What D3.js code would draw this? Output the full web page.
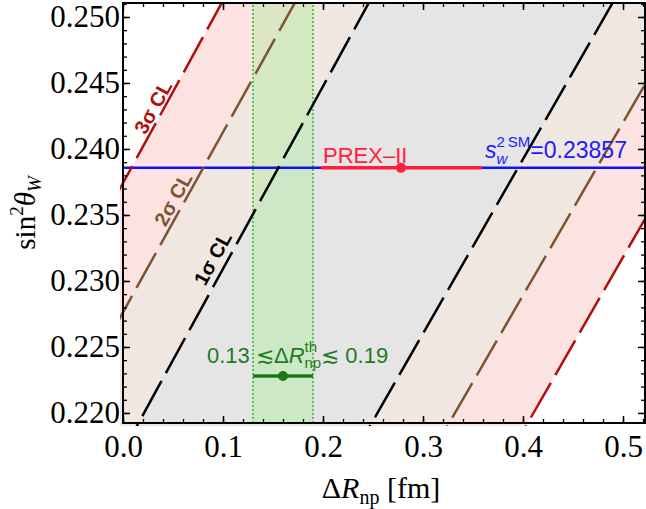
<!DOCTYPE html>
<html>
<head>
<meta charset="utf-8">
<script src="https://cdn.jsdelivr.net/npm/d3@7"></script>
<style>
  body { margin: 0; background: #fff; }
  svg { display: block; }
</style>
</head>
<body>
<div class="chart"></div>
<script>
// sin^2 theta_W vs Delta R_np

// confidence bands: Delta R_np where each edge crosses sin2 = 0.220 and 0.250
const bandNames = ['3σ CL', '2σ CL', '1σ CL'];
const edgeAt = [0.220, 0.250];
const leftEdge = [[-0.126, 0.091], [-0.056, 0.164], [0.021, 0.238]];
const rightEdge = [[0.4105, 0.638], [0.332, 0.561], [0.2545, 0.4815]];
const bandFill = ['#fde2e2', '#efe7e0', '#e5e5e5'];
const bandLine = ['#b30e0e', '#7d5431', '#000000'];
const labelAt = [0.2428, 0.2358, 0.2312];   // sin2 value where the label sits
const labelOff = [10, 11, 14];

// theory range and PREX-II
const thRange = [0.13, 0.19];
const thPoint = {lo: 0.13, mid: 0.160, hi: 0.19, s2: 0.2228};
const prex = {lo: 0.198, mid: 0.278, hi: 0.359};
const s2SM = 0.23857;

const xMajor = [0, 0.1, 0.2, 0.3, 0.4, 0.5];
const yMajor = [0.220, 0.225, 0.230, 0.235, 0.240, 0.245, 0.250];

const width = 646, height = 509;
const svg = d3.select('.chart').append('svg')
    .attr('width', width)
    .attr('height', height);

const x = d3.scaleLinear().domain([0, 0.522]).range([123, 645]);
const y = d3.scaleLinear().domain([0.21924, 0.25106]).range([423, 3]);

svg.append('clipPath').attr('id', 'clip')
  .append('rect')
    .attr('x', x.range()[0] - 3).attr('y', y.range()[1])
    .attr('width', x.range()[1] - x.range()[0] + 3)
    .attr('height', y.range()[0] - y.range()[1] + 3);

const plot = svg.append('g').attr('clip-path', 'url(#clip)');

const edgeScale = e => d3.scaleLinear().domain(edgeAt).range(e);
const s2lo = 0.210, s2hi = 0.260;

// bands
bandNames.forEach((name, i) => {
    const L = edgeScale(leftEdge[i]), R = edgeScale(rightEdge[i]);
    const pts = [[L(s2lo), s2lo], [L(s2hi), s2hi], [R(s2hi), s2hi], [R(s2lo), s2lo]];
    plot.append('path')
        .attr('d', d3.line().x(d => x(d[0])).y(d => y(d[1]))(pts) + 'Z')
        .attr('fill', bandFill[i]);
});

// theory band
plot.append('rect')
    .attr('x', x(thRange[0]))
    .attr('width', x(thRange[1]) - x(thRange[0]))
    .attr('y', y.range()[1])
    .attr('height', y.range()[0] - y.range()[1])
    .attr('fill', 'rgba(149,239,125,0.3)');

thRange.forEach(v => {
    plot.append('line')
        .attr('x1', x(v)).attr('x2', x(v))
        .attr('y1', y.range()[0]).attr('y2', y.range()[1])
        .attr('stroke', '#2db82d')
        .attr('stroke-width', 1.5)
        .attr('stroke-dasharray', '2,2');
});

// blue SM line
plot.append('line')
    .attr('x1', x.range()[0]).attr('x2', x.range()[1])
    .attr('y1', y(s2SM)).attr('y2', y(s2SM))
    .attr('stroke', '#1010ff')
    .attr('stroke-width', 2.5);

// dashed edges
bandNames.forEach((name, i) => {
    [leftEdge[i], rightEdge[i]].forEach(e => {
        const S = edgeScale(e);
        plot.append('line')
            .attr('x1', x(S(s2lo))).attr('y1', y(s2lo))
            .attr('x2', x(S(s2hi))).attr('y2', y(s2hi))
            .attr('stroke', bandLine[i])
            .attr('stroke-width', 2.5)
            .attr('stroke-dasharray', '40,9');
    });
});

// PREX-II
plot.append('line')
    .attr('x1', x(prex.lo)).attr('x2', x(prex.hi))
    .attr('y1', y(s2SM)).attr('y2', y(s2SM))
    .attr('stroke', '#ff1f3d')
    .attr('stroke-width', 3.5);
plot.append('circle')
    .attr('cx', x(prex.mid)).attr('cy', y(s2SM)).attr('r', 5)
    .attr('fill', '#ff1f3d');

// theory point
plot.append('line')
    .attr('x1', x(thPoint.lo)).attr('x2', x(thPoint.hi))
    .attr('y1', y(thPoint.s2)).attr('y2', y(thPoint.s2))
    .attr('stroke', '#1a7a1a')
    .attr('stroke-width', 3.5);
plot.append('circle')
    .attr('cx', x(thPoint.mid)).attr('cy', y(thPoint.s2)).attr('r', 5)
    .attr('fill', '#1a7a1a');

// band labels along the left edges
bandNames.forEach((name, i) => {
    const S = edgeScale(leftEdge[i]);
    const px = x(S(labelAt[i])), py = y(labelAt[i]);
    const dx = x(S(0.250)) - x(S(0.220)), dy = y(0.250) - y(0.220);
    const ang = Math.atan2(dy, dx) * 180 / Math.PI;
    svg.append('text')
        .attr('transform', `translate(${px},${py}) rotate(${ang}) translate(0,${-labelOff[i]})`)
        .attr('text-anchor', 'middle')
        .attr('dominant-baseline', 'central')
        .style('font-family', 'Liberation Sans, Arial, sans-serif')
        .style('font-weight', 'bold')
        .style('font-size', '20px')
        .attr('fill', bandLine[i])
        .text(name);
});

// rich text helper: draws parts left to right, returns width
function richText(g, parts, base) {
    let cx = 0;
    parts.forEach(p => {
        if (p.stack) {
            let w = 0;
            p.stack.forEach(s => {
                const t = g.append('text')
                    .attr('x', cx).attr('y', s.dy || 0)
                    .style('font-size', s.size + 'px')
                    .style('font-style', s.italic ? 'italic' : 'normal')
                    .text(s.t);
                Object.entries(base).forEach(([k, v]) => t.style(k, v));
                w = Math.max(w, t.node().getComputedTextLength());
            });
            cx += w;
        } else {
            const t = g.append('text')
                .attr('x', cx).attr('y', p.dy || 0)
                .style('font-size', p.size + 'px')
                .style('font-style', p.italic ? 'italic' : 'normal')
                .attr('xml:space', 'preserve')
                .text(p.t);
            Object.entries(base).forEach(([k, v]) => t.style(k, v));
            cx += t.node().getComputedTextLength();
        }
    });
    return cx;
}

const sans = {'font-family': 'Liberation Sans, Arial, sans-serif'};
const serif = {'font-family': 'Liberation Serif, Times New Roman, serif', 'fill': '#000'};

// PREX-II label
svg.append('text')
    .attr('x', x(prex.lo) + 2).attr('y', y(s2SM) - 5)
    .style('font-family', 'Liberation Sans, Arial, sans-serif')
    .style('font-size', '22px')
    .attr('fill', '#ff1f3d')
    .text('PREX\u2013II');

// SM value label
const gSM = svg.append('g')
    .attr('transform', `translate(${x(0.362)},${y(s2SM) - 10})`)
    .attr('fill', '#1a1aff');
richText(gSM, [
    {t: 's', size: 23, italic: true},
    {stack: [{t: 'w', size: 15, italic: true, dy: 6}, {t: '2\u2009SM', size: 15, dy: -11}]},
    {t: '=' + s2SM.toFixed(5), size: 23}
], sans);

// theory label
const gTh = svg.append('g')
    .attr('transform', `translate(${x(thPoint.lo) - 46},${y(thPoint.s2) - 13})`)
    .attr('fill', '#1e7b1e');
richText(gTh, [
    {t: thRange[0] + ' ', size: 22},
    {t: '\u2272\u0394', size: 22},
    {t: 'R', size: 22, italic: true},
    {stack: [{t: 'th', size: 15, dy: -11}, {t: 'np', size: 15, dy: 5}]},
    {t: '\u2272 ' + thRange[1], size: 22}
], sans);

// axes: inside ticks on all four sides
function addAxis(axis, tr, major, minor, fmt, pad) {
    const g = svg.append('g').attr('transform', tr);
    g.call(axis.tickValues(minor).tickSize(-4).tickSizeOuter(0).tickFormat(''));
    g.select('.domain').remove();
    const g2 = svg.append('g').attr('transform', tr);
    g2.call(axis.tickValues(major).tickSize(-7).tickSizeOuter(0).tickFormat(fmt).tickPadding(pad));
    g2.select('.domain').remove();
    g.selectAll('line').attr('stroke-width', 1.3);
    g2.selectAll('line').attr('stroke-width', 1.5);
    g2.selectAll('text')
        .style('font-family', 'Liberation Serif, Times New Roman, serif')
        .style('font-size', '31px')
        .attr('fill', '#000');
    return g2;
}
const xMinor = d3.range(0, 0.521, 0.02);
const yMinor = d3.range(0.219, 0.2515, 0.001).filter(v => v > 0.2192);

addAxis(d3.axisBottom(x), `translate(0,${y.range()[0]})`, xMajor, xMinor, d3.format('.1f'), 12);
addAxis(d3.axisTop(x), `translate(0,${y.range()[1]})`, xMajor, xMinor, '', 0).selectAll('text').remove();
addAxis(d3.axisLeft(y), `translate(${x.range()[0]},0)`, yMajor, yMinor, d3.format('.3f'), 3);
addAxis(d3.axisRight(y), `translate(${x.range()[1]},0)`, yMajor, yMinor, '', 0).selectAll('text').remove();

// frame
svg.append('rect')
    .attr('x', x.range()[0]).attr('y', y.range()[1])
    .attr('width', x.range()[1] - x.range()[0])
    .attr('height', y.range()[0] - y.range()[1])
    .attr('fill', 'none')
    .attr('stroke', '#000')
    .attr('stroke-width', 2);

// axis titles
const gx = svg.append('g');
const wx = richText(gx, [
    {t: '\u0394', size: 30},
    {t: 'R', size: 30, italic: true},
    {t: 'np', size: 20, dy: 6},
    {t: ' [fm]', size: 30}
], serif);
gx.attr('transform', `translate(${381 - wx / 2},498)`);

const gy = svg.append('g');
const wy = richText(gy, [
    {t: 'sin', size: 29},
    {t: '2', size: 19, dy: -12},
    {t: '\u03b8', size: 29, italic: true},
    {t: 'W', size: 19, italic: true, dy: 6}
], serif);
gy.attr('transform', `translate(35,213) rotate(-90) translate(${-wy / 2},0)`);
</script>
</body>
</html>
